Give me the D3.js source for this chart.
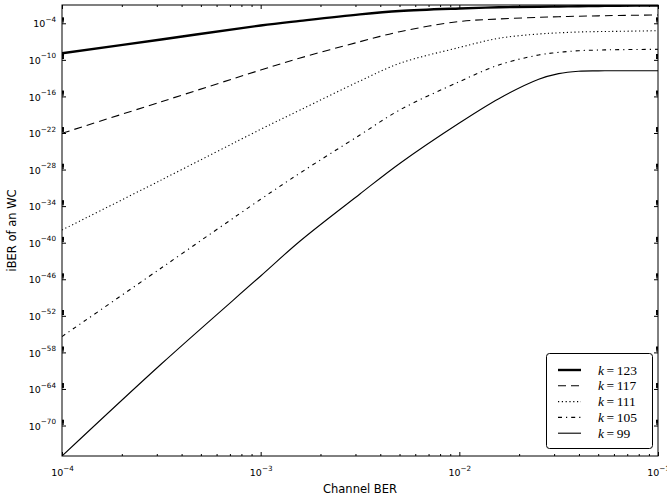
<!DOCTYPE html>
<html>
<head>
<meta charset="utf-8">
<script src="https://cdn.jsdelivr.net/npm/d3@7"></script>
<style>
  html, body { margin: 0; padding: 0; background: #fff; }
  svg { display: block; }
</style>
</head>
<body>
<svg id="chart" width="667" height="499"></svg>
<script>
// ---- data ----
const channelBER = [1e-4, 3.16e-4, 1e-3, 1.58e-3, 3.16e-3, 5.01e-3, 1e-2, 1.58e-2, 2.51e-2, 3.16e-2, 3.98e-2, 5.01e-2, 6.31e-2, 1e-1];
const seriesK = [123, 117, 111, 105, 99];
const iberK123 = [1.175e-9, 2.19e-7, 4.37e-5, 2.51e-4, 2.95e-3, 1.047e-2, 2.69e-2, 4.17e-2, 5.25e-2, 5.75e-2, 6.31e-2, 6.92e-2, 7.41e-2, 8.32e-2];
const iberK117 = [8.91e-23, 1.35e-17, 2.14e-12, 2.0e-10, 9.55e-8, 4.17e-6, 1.95e-4, 5.01e-4, 9.55e-4, 1.20e-3, 1.45e-3, 1.66e-3, 1.91e-3, 2.29e-3];
const iberK111 = [1.20e-38, 1.95e-30, 3.98e-22, 5.89e-19, 3.39e-14, 2.69e-11, 1.07e-8, 3.47e-7, 1.74e-6, 2.69e-6, 3.72e-6, 4.37e-6, 4.79e-6, 6.03e-6];
const iberK105 = [3.98e-56, 7.08e-45, 1.32e-33, 2.75e-29, 4.68e-23, 5.89e-19, 2.63e-14, 1.45e-11, 6.31e-10, 1.66e-9, 3.16e-9, 4.07e-9, 4.68e-9, 5.37e-9];
const iberK99  = [1e-75, 1.26e-60, 3.47e-46, 1.91e-40, 9.77e-33, 1e-27, 4.37e-21, 4.27e-17, 6.46e-14, 5.50e-13, 1.38e-12, 1.58e-12, 1.66e-12, 1.66e-12];
const xTickExps = [-4, -3, -2, -1];
const yTickExps = [-4, -10, -16, -22, -28, -34, -40, -46, -52, -58, -64, -70];
const xLabel = "Channel BER";
const yLabel = "iBER of an WC";

const seriesValues = [iberK123, iberK117, iberK111, iberK105, iberK99];
const seriesStyle = [
  { width: 2.4, dash: null },
  { width: 1.1, dash: "8,5" },
  { width: 1.1, dash: "1.2,2.6" },
  { width: 1.1, dash: "4,4,1.2,4" },
  { width: 1.1, dash: null }
];

// ---- layout ----
const L = 62, R = 658, T = 5, B = 456;
const svg = d3.select("#chart");
const x = d3.scaleLog().domain([1e-4, 1e-1]).range([L, R]);
const y = d3.scaleLog().domain([1e-75, 1e-1]).range([B, T]);

svg.append("defs").append("clipPath").attr("id", "clip")
  .append("rect").attr("x", L).attr("y", T).attr("width", R - L).attr("height", B - T);

// ---- lines ----
const line = d3.line()
  .x(d => x(d[0]))
  .y(d => y(d[1]))
  .curve(d3.curveCatmullRom.alpha(0.5));

const gLines = svg.append("g").attr("clip-path", "url(#clip)");
seriesValues.forEach((vals, i) => {
  const pts = channelBER.map((c, j) => [c, vals[j]]);
  gLines.append("path")
    .attr("d", line(pts))
    .attr("fill", "none")
    .attr("stroke", "#000")
    .attr("stroke-width", seriesStyle[i].width)
    .attr("stroke-dasharray", seriesStyle[i].dash)
    .attr("stroke-linejoin", "round");
});

// ---- ticks ----
const xMajor = xTickExps.map(e => Math.pow(10, e));
const xMinor = [];
xTickExps.slice(0, -1).forEach(e => { for (let j = 2; j <= 9; j++) xMinor.push(j * Math.pow(10, e)); });
const yMajor = yTickExps.map(e => Math.pow(10, e));
const yMinor = [];
yTickExps.forEach(e => { for (let j = 2; j <= 9; j++) yMinor.push(j * Math.pow(10, e)); });

function styleAxis(g) {
  g.select(".domain").remove();
  g.selectAll(".tick line").attr("stroke", "#000").attr("stroke-width", 1);
}

// bottom & top major/minor
svg.append("g").attr("transform", `translate(0,${B})`)
  .call(d3.axisBottom(x).tickValues(xMajor).tickSizeInner(-4).tickSizeOuter(0).tickFormat(() => ""))
  .call(styleAxis).attr("class", "xb");
svg.append("g").attr("transform", `translate(0,${B})`)
  .call(d3.axisBottom(x).tickValues(xMinor).tickSizeInner(-2).tickSizeOuter(0).tickFormat(() => ""))
  .call(styleAxis);
svg.append("g").attr("transform", `translate(0,${T})`)
  .call(d3.axisTop(x).tickValues(xMajor).tickSizeInner(-4).tickSizeOuter(0).tickFormat(() => ""))
  .call(styleAxis);
svg.append("g").attr("transform", `translate(0,${T})`)
  .call(d3.axisTop(x).tickValues(xMinor).tickSizeInner(-2).tickSizeOuter(0).tickFormat(() => ""))
  .call(styleAxis);
// left & right
svg.append("g").attr("transform", `translate(${L},0)`)
  .call(d3.axisLeft(y).tickValues(yMajor).tickSizeInner(-4).tickSizeOuter(0).tickFormat(() => ""))
  .call(styleAxis).attr("class", "yl");
svg.append("g").attr("transform", `translate(${L},0)`)
  .call(d3.axisLeft(y).tickValues(yMinor).tickSizeInner(-2).tickSizeOuter(0).tickFormat(() => ""))
  .call(styleAxis);
svg.append("g").attr("transform", `translate(${R},0)`)
  .call(d3.axisRight(y).tickValues(yMajor).tickSizeInner(-4).tickSizeOuter(0).tickFormat(() => ""))
  .call(styleAxis);
svg.append("g").attr("transform", `translate(${R},0)`)
  .call(d3.axisRight(y).tickValues(yMinor).tickSizeInner(-2).tickSizeOuter(0).tickFormat(() => ""))
  .call(styleAxis);

// tick labels (10^e with superscript)
const tickFont = "'DejaVu Sans', sans-serif";
function powLabel(sel, e) {
  sel.text(null);
  sel.append("tspan").text("10").attr("font-size", 9.5);
  sel.append("tspan").text("\u2212" + Math.abs(e)).attr("font-size", 7.2).attr("dy", -5.5);
}
svg.select(".xb").selectAll(".tick").each(function(d, i) {
  const t = d3.select(this).select("text");
  t.attr("y", 20).attr("dy", null).attr("text-anchor", "middle")
    .attr("font-family", tickFont).attr("fill", "#000");
  powLabel(t, xTickExps[i]);
});
svg.select(".yl").selectAll(".tick").each(function(d, i) {
  const t = d3.select(this).select("text");
  t.attr("x", -6).attr("dy", null).attr("y", 3.6).attr("text-anchor", "end")
    .attr("font-family", tickFont).attr("fill", "#000");
  powLabel(t, yTickExps[i]);
});

// frame
svg.append("rect")
  .attr("x", L).attr("y", T).attr("width", R - L).attr("height", B - T)
  .attr("fill", "none").attr("stroke", "#000").attr("stroke-width", 1);

// axis titles
svg.append("text").attr("x", (L + R) / 2).attr("y", 493)
  .attr("text-anchor", "middle").attr("font-family", tickFont).attr("font-size", 11.5)
  .attr("fill", "#000").text(xLabel);
svg.append("text")
  .attr("transform", `translate(16,${(T + B) / 2}) rotate(-90)`)
  .attr("text-anchor", "middle").attr("font-family", tickFont).attr("font-size", 11.5)
  .attr("fill", "#000").text(yLabel);

// legend
const lg = svg.append("g");
lg.append("rect").attr("x", 546.5).attr("y", 353.5).attr("width", 106).attr("height", 95)
  .attr("rx", 3).attr("fill", "#fff").attr("stroke", "#000").attr("stroke-width", 1);
seriesK.forEach((k, i) => {
  const cy = 370 + i * 15.8;
  lg.append("line").attr("x1", 558).attr("x2", 581).attr("y1", cy).attr("y2", cy)
    .attr("stroke", "#000").attr("stroke-width", seriesStyle[i].width)
    .attr("stroke-dasharray", seriesStyle[i].dash);
  const t = lg.append("text").attr("x", 598).attr("y", cy + 4.5)
    .attr("font-family", "'Liberation Serif', 'DejaVu Serif', serif").attr("font-size", 13.5).attr("fill", "#000");
  t.append("tspan").attr("font-style", "italic").text("k");
  t.append("tspan").attr("dx", 2.5).text("=");
  t.append("tspan").attr("dx", 2.5).text(String(k));
});
</script>
</body>
</html>
